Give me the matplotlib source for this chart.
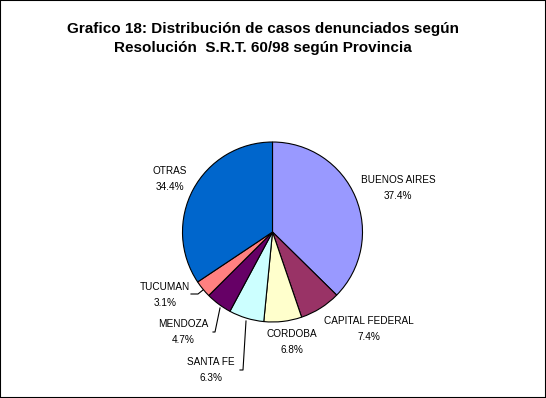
import matplotlib
matplotlib.use("Agg")
import matplotlib.pyplot as plt
from matplotlib.patches import Rectangle

categories = ["BUENOS AIRES", "CAPITAL FEDERAL", "CORDOBA", "SANTA FE", "MENDOZA", "TUCUMAN", "OTRAS"]
values = [37.4, 7.4, 6.8, 6.3, 4.7, 3.1, 34.4]
pct_labels = ["37.4%", "7.4%", "6.8%", "6.3%", "4.7%", "3.1%", "34.4%"]
colors = ["#9999FF", "#993366", "#FFFFCC", "#CCFFFF", "#660066", "#FF8080", "#0066CC"]
title = "Grafico 18: Distribución de casos denunciados según\nResolución  S.R.T. 60/98 según Provincia"

W, H = 546, 398
fig = plt.figure(figsize=(W / 100, H / 100), dpi=100)
ax = fig.add_axes([0, 0, 1, 1])
ax.set_xlim(0, W)
ax.set_ylim(0, H)
ax.axis("off")

def Y(py):
    return H - py

cx, cy, r = 272.5, 232, 90
ax.pie(values, colors=colors, startangle=90, counterclock=False,
       center=(cx, Y(cy)), radius=r, frame=True,
       wedgeprops=dict(edgecolor="black", linewidth=0.8))
ax.set_xlim(0, W)
ax.set_ylim(0, H)
ax.axis("off")

label_pos = [(398, 180), (369, 321), (292, 334), (211, 362), (183, 324), (165, 287), (170, 171)]
for name, pct, (lx, ly) in zip(categories, pct_labels, label_pos):
    ax.text(lx, Y(ly), name, ha="center", va="center", fontsize=7.2,
            family="Liberation Sans")
    ax.text(lx, Y(ly + 16), pct, ha="center", va="center", fontsize=7.2,
            family="Liberation Sans")

leaders = [
    [(191, 294), (198, 294), (203, 290)],
    [(213, 332), (215, 332), (220, 308)],
    [(240, 370), (243, 370), (246, 321)],
]
for pts in leaders:
    ax.plot([p[0] for p in pts], [Y(p[1]) for p in pts], color="black", linewidth=0.8)

ax.text(263, Y(38.5), title, ha="center", va="center", fontsize=11,
        fontweight="bold", family="Liberation Sans", linespacing=1.49)

fig.patches.append(Rectangle((0, 0), 1, 1, transform=fig.transFigure, fill=False,
                             edgecolor="black", linewidth=1.5))
fig.savefig("out.png", dpi=100)
